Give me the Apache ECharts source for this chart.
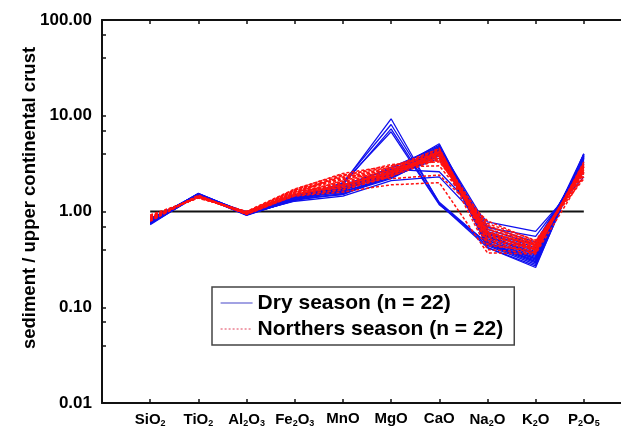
<!DOCTYPE html>
<html>
<head>
<meta charset="utf-8">
<script src="https://cdn.jsdelivr.net/npm/echarts@6/dist/echarts.min.js"></script>
<style>
  html, body { margin: 0; padding: 0; background: #fff; }
  #chart { width: 621px; height: 429px; }
</style>
</head>
<body>
<div id="chart"></div>
<script>
// Oxides normalised to upper continental crust
const oxides = ['SiO2', 'TiO2', 'Al2O3', 'Fe2O3', 'MnO', 'MgO', 'CaO', 'Na2O', 'K2O', 'P2O5'];

// Y-axis decades and minor tick values
const yLabelValues = [0.01, 0.1, 1, 10, 100];
const yMinorValues = [0.04, 0.07, 0.4, 0.7, 4, 7, 40, 70];
const referenceLevel = 1;

// Dry season samples (n = 22), one row per sample in oxide order
const drySamples = [
  [0.74, 1.50, 0.92, 1.32, 1.95, 9.3, 1.22, 0.44, 0.28, 3.95],
  [0.73, 1.52, 0.93, 1.35, 2.00, 8.1, 1.25, 0.46, 0.30, 3.80],
  [0.75, 1.48, 0.94, 1.30, 1.90, 7.3, 1.20, 0.42, 0.27, 3.70],
  [0.76, 1.49, 0.91, 1.33, 1.98, 6.8, 1.18, 0.47, 0.32, 3.60],
  [0.78, 1.55, 0.95, 1.45, 1.80, 2.6, 5.1, 0.55, 0.35, 4.00],
  [0.80, 1.53, 0.96, 1.42, 1.75, 2.5, 4.8, 0.50, 0.32, 3.90],
  [0.77, 1.50, 0.93, 1.38, 1.70, 2.4, 4.6, 0.48, 0.30, 3.85],
  [0.82, 1.47, 0.97, 1.40, 1.65, 2.7, 4.4, 0.60, 0.38, 3.70],
  [0.79, 1.52, 0.94, 1.36, 1.60, 2.3, 4.2, 0.52, 0.34, 3.50],
  [0.81, 1.49, 0.95, 1.44, 1.85, 2.8, 4.9, 0.58, 0.40, 3.60],
  [0.75, 1.46, 0.92, 1.31, 1.55, 2.2, 4.0, 0.45, 0.29, 3.95],
  [0.83, 1.51, 0.98, 1.47, 1.72, 2.55, 4.5, 0.65, 0.45, 3.30],
  [0.78, 1.54, 0.96, 1.39, 1.68, 2.45, 4.3, 0.62, 0.42, 3.40],
  [0.80, 1.48, 0.93, 1.34, 1.50, 2.35, 3.9, 0.54, 0.36, 3.75],
  [0.84, 1.45, 0.99, 1.50, 1.78, 2.9, 4.7, 0.70, 0.48, 3.10],
  [0.76, 1.50, 0.94, 1.37, 1.62, 2.25, 3.8, 0.50, 0.33, 3.65],
  [0.85, 1.47, 0.97, 1.48, 1.90, 2.75, 2.6, 0.78, 0.62, 2.30],
  [0.82, 1.44, 0.95, 1.28, 1.45, 2.1, 2.3, 0.68, 0.55, 2.60],
  [0.79, 1.52, 0.96, 1.41, 1.58, 2.4, 4.1, 0.46, 0.31, 3.80],
  [0.77, 1.49, 0.92, 1.35, 1.66, 2.5, 4.4, 0.56, 0.37, 3.55],
  [0.81, 1.53, 0.95, 1.43, 1.74, 2.65, 4.6, 0.42, 0.26, 4.00],
  [0.80, 1.46, 0.94, 1.36, 1.52, 2.3, 3.6, 0.60, 0.40, 3.20]
];

// Northers season samples (n = 22)
const northersSamples = [
  [0.82, 1.45, 0.95, 1.55, 2.40, 2.9, 4.5, 0.55, 0.42, 2.9],
  [0.85, 1.42, 0.97, 1.62, 2.30, 2.8, 4.2, 0.60, 0.45, 2.7],
  [0.88, 1.40, 0.98, 1.70, 2.50, 3.0, 4.0, 0.70, 0.48, 2.5],
  [0.80, 1.47, 0.94, 1.50, 2.10, 2.7, 4.6, 0.50, 0.40, 3.1],
  [0.83, 1.44, 0.96, 1.58, 2.00, 2.6, 3.9, 0.58, 0.44, 2.8],
  [0.86, 1.41, 0.99, 1.65, 2.20, 2.75, 3.6, 0.65, 0.46, 2.6],
  [0.79, 1.48, 0.93, 1.48, 1.90, 2.5, 4.3, 0.48, 0.38, 3.2],
  [0.84, 1.43, 0.96, 1.60, 1.85, 2.45, 3.8, 0.56, 0.42, 2.9],
  [0.90, 1.39, 1.00, 1.68, 2.35, 3.1, 3.3, 0.75, 0.50, 2.3],
  [0.81, 1.46, 0.95, 1.52, 1.80, 2.4, 4.1, 0.52, 0.41, 3.0],
  [0.87, 1.42, 0.97, 1.63, 1.75, 2.35, 3.5, 0.62, 0.44, 2.7],
  [0.82, 1.45, 0.94, 1.46, 1.70, 2.3, 4.4, 0.46, 0.37, 3.3],
  [0.85, 1.44, 0.96, 1.56, 1.95, 2.55, 3.7, 0.54, 0.43, 2.8],
  [0.92, 1.38, 1.00, 1.72, 2.45, 2.2, 2.4, 0.80, 0.49, 2.2],
  [0.88, 1.40, 0.98, 1.45, 1.60, 1.9, 2.0, 0.37, 0.36, 2.4],
  [0.80, 1.47, 0.94, 1.50, 1.88, 2.6, 4.5, 0.44, 0.39, 3.1],
  [0.84, 1.43, 0.95, 1.57, 2.05, 2.65, 4.0, 0.58, 0.40, 2.9],
  [0.86, 1.41, 0.97, 1.61, 2.15, 2.8, 3.4, 0.66, 0.47, 2.6],
  [0.83, 1.45, 0.96, 1.54, 1.78, 2.45, 4.2, 0.50, 0.41, 3.0],
  [0.81, 1.46, 0.95, 1.49, 1.68, 2.35, 3.9, 0.40, 0.37, 3.2],
  [0.87, 1.42, 0.98, 1.66, 2.25, 2.9, 3.0, 0.72, 0.46, 2.5],
  [0.85, 1.44, 0.97, 1.59, 1.92, 2.5, 3.6, 0.60, 0.45, 2.8]
];

const DRY = 'Dry season (n = 22)';
const NORTHERS = 'Northers season (n = 22)';
const FONT = 'Liberation Sans, Arial, sans-serif';

// oxide i sits at x = i + 1 on a 0..11 axis
const toPoints = row => row.map((v, i) => [i + 1, v]);

// chemical formulas with subscript digits
const formula = name => name.replace(/(\d)/g, '{s|$1}');

const series = [];
series.push({
  name: 'reference',
  type: 'line',
  data: [[1, referenceLevel], [oxides.length, referenceLevel]],
  symbol: 'none',
  lineStyle: { color: '#111', width: 2 },
  z: 1,
  silent: true
});
drySamples.forEach(row => series.push({
  name: DRY,
  type: 'line',
  data: toPoints(row),
  symbol: 'none',
  color: '#1010ee',
  lineStyle: { color: '#1010ee', width: 1.3 },
  z: 2
}));
northersSamples.forEach(row => series.push({
  name: NORTHERS,
  type: 'line',
  data: toPoints(row),
  symbol: 'none',
  color: '#ff1010',
  lineStyle: { color: '#ff1010', width: 1.5, type: [3, 2] },
  z: 3
}));

const xCommon = {
  type: 'value',
  min: 0,
  max: oxides.length + 1,
  interval: 1,
  splitLine: { show: false },
  axisLine: { show: true, onZero: false, lineStyle: { color: '#111', width: 2 } },
  axisTick: { show: true, inside: true, length: 4, lineStyle: { color: '#111', width: 1.5 } }
};

const chart = echarts.init(document.getElementById('chart'), null, { renderer: 'canvas' });
chart.setOption({
  animation: false,
  backgroundColor: '#fff',
  grid: { left: 102, right: -11, top: 20, bottom: 26, outerBoundsMode: 'none' },
  legend: {
    data: [
      { name: DRY, itemStyle: { opacity: 0 }, lineStyle: { color: '#4646c8', width: 1.2, type: 'solid' } },
      { name: NORTHERS, itemStyle: { opacity: 0 }, lineStyle: { color: '#e0405a', width: 1, type: [2, 2] } }
    ],
    orient: 'vertical',
    left: 212,
    top: 287,
    padding: [5, 11, 5, 8],
    itemGap: 4,
    itemWidth: 32,
    itemHeight: 14,
    itemTextGap: 10,
    borderColor: '#444',
    borderWidth: 1.5,
    backgroundColor: '#fff',
    textStyle: { fontFamily: FONT, fontSize: 21, fontWeight: 'bold', color: '#000', lineHeight: 22 }
  },
  xAxis: [
    Object.assign({}, xCommon, {
      position: 'bottom',
      axisLabel: {
        margin: 8,
        fontFamily: FONT,
        fontSize: 15,
        fontWeight: 'bold',
        color: '#000',
        formatter: v => (v >= 1 && v <= oxides.length) ? formula(oxides[v - 1]) : '',
        rich: {
          s: { fontFamily: FONT, fontSize: 9, fontWeight: 'bold', color: '#000', padding: [8, 0, 0, 0] }
        }
      }
    }),
    Object.assign({}, xCommon, { position: 'top', axisLabel: { show: false } })
  ],
  yAxis: {
    type: 'log',
    logBase: 10,
    min: 0.01,
    max: 100,
    splitLine: { show: false },
    axisLine: { show: true, lineStyle: { color: '#111', width: 2 } },
    axisTick: {
      show: true,
      inside: true,
      length: 4,
      customValues: yLabelValues.concat(yMinorValues),
      lineStyle: { color: '#111', width: 1.5 }
    },
    axisLabel: {
      margin: 10,
      customValues: yLabelValues,
      fontFamily: FONT,
      fontSize: 17,
      fontWeight: 'bold',
      color: '#000',
      formatter: v => Number(v).toFixed(2)
    }
  },
  graphic: [{
    type: 'text',
    x: 30,
    y: 198,
    rotation: Math.PI / 2,
    style: {
      text: 'sediment / upper continental crust',
      fontFamily: FONT,
      fontSize: 18.5,
      fontWeight: 'bold',
      fill: '#000',
      align: 'center',
      verticalAlign: 'middle'
    }
  }],
  series: series
});
</script>
</body>
</html>
